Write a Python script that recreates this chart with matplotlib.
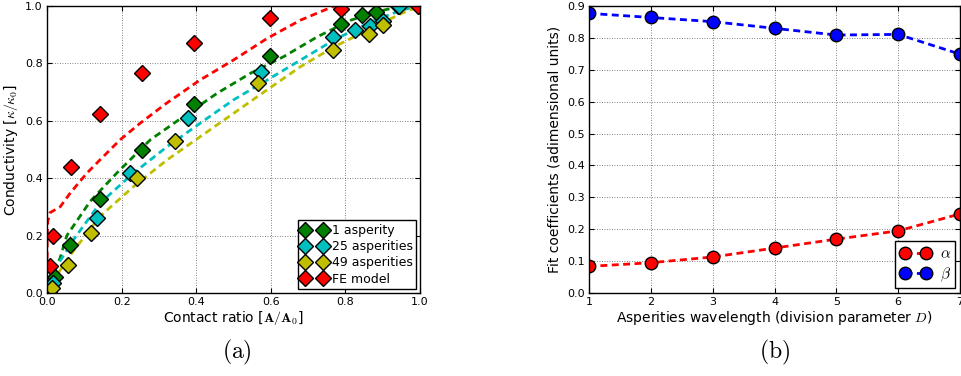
import numpy as np
import matplotlib
matplotlib.use("Agg")
import matplotlib.pyplot as plt

plt.rcParams['mathtext.fontset'] = 'cm'
plt.rcParams['font.size'] = 8

# ---- (a) conductivity vs contact ratio ----
x_1 = [0.005, 0.02, 0.062, 0.142, 0.254, 0.393, 0.598, 0.788, 0.844, 0.883, 0.94, 1.0]
y_1 = [0.02, 0.056, 0.168, 0.327, 0.497, 0.659, 0.826, 0.937, 0.969, 0.978, 1.0, 1.0]
x_25 = [0.008, 0.017, 0.135, 0.223, 0.379, 0.574, 0.768, 0.826, 0.866, 0.9, 0.943]
y_25 = [0.017, 0.035, 0.261, 0.418, 0.609, 0.771, 0.893, 0.916, 0.930, 0.949, 1.0]
x_49 = [0.005, 0.013, 0.057, 0.117, 0.241, 0.342, 0.565, 0.768, 0.864, 0.902]
y_49 = [0.005, 0.017, 0.099, 0.209, 0.400, 0.531, 0.733, 0.847, 0.903, 0.934]
x_fe = [0.008, 0.015, 0.064, 0.141, 0.254, 0.393, 0.598, 0.788, 0.994]
y_fe = [0.093, 0.2, 0.439, 0.623, 0.766, 0.872, 0.957, 0.988, 1.0]

# fitted curves
fx_1 = [0.0, 0.021, 0.035, 0.053, 0.116, 0.187, 0.277, 0.366, 0.456, 0.546, 0.635, 0.725, 0.815, 0.904, 0.95]
fy_1 = [0.0, 0.08, 0.122, 0.2, 0.32, 0.418, 0.534, 0.615, 0.696, 0.766, 0.824, 0.893, 0.951, 0.986, 1.0]
fx_25 = [0.0, 0.026, 0.071, 0.142, 0.232, 0.322, 0.411, 0.5, 0.59, 0.68, 0.77, 0.86, 0.95, 1.0]
fy_25 = [0.0, 0.093, 0.186, 0.313, 0.418, 0.51, 0.592, 0.673, 0.742, 0.812, 0.882, 0.94, 0.986, 1.0]
fx_49 = [0.0, 0.008, 0.053, 0.142, 0.232, 0.322, 0.411, 0.5, 0.59, 0.68, 0.77, 0.86, 0.95, 1.0]
fy_49 = [0.0, 0.023, 0.116, 0.267, 0.371, 0.464, 0.545, 0.626, 0.708, 0.789, 0.858, 0.916, 0.974, 1.0]
fx_fe = [0.0, 0.0005, 0.002, 0.008, 0.035, 0.062, 0.107, 0.142, 0.196, 0.25, 0.32, 0.41, 0.5, 0.59, 0.68, 0.77]
fy_fe = [0.08, 0.2, 0.25, 0.28, 0.3, 0.348, 0.418, 0.464, 0.534, 0.592, 0.661, 0.742, 0.812, 0.887, 0.951, 1.0]

# ---- (b) fit coefficients ----
D = [1, 2, 3, 4, 5, 6, 7]
alpha = [0.0835, 0.095, 0.113, 0.141, 0.169, 0.195, 0.248]
beta = [0.877, 0.864, 0.851, 0.830, 0.809, 0.811, 0.749]

fig = plt.figure(figsize=(9.62, 3.76), dpi=100)
ax1 = fig.add_axes([0.0489, 0.2207, 0.3877, 0.7633])
ax2 = fig.add_axes([0.6123, 0.2207, 0.3857, 0.7633])

green = '#008000'
cyan = '#00bfbf'
olive = '#bfbf00'
red = '#ff0000'
dash = (2.5, 1.6)

ax1.plot(fx_1, fy_1, '--', color=green, lw=2, dashes=dash)
ax1.plot(fx_25, fy_25, '--', color=cyan, lw=2, dashes=dash)
ax1.plot(fx_49, fy_49, '--', color=olive, lw=2, dashes=dash)
ax1.plot(fx_fe, fy_fe, '--', color=red, lw=2, dashes=dash)

mk = dict(marker='D', linestyle='none', markersize=8.5, markeredgecolor='k', markeredgewidth=1)
ax1.plot(x_1, y_1, color=green, label='1 asperity', **mk)
ax1.plot(x_25, y_25, color=cyan, label='25 asperities', **mk)
ax1.plot(x_49, y_49, color=olive, label='49 asperities', **mk)
ax1.plot(x_fe, y_fe, color=red, label='FE model', **mk)

ax1.set_xlim(0, 1)
ax1.set_ylim(0, 1)
ax1.set_xticks(np.arange(0, 1.01, 0.2))
ax1.set_yticks(np.arange(0, 1.01, 0.2))
ax1.set_xlabel(r'Contact ratio [$\mathbf{A}/\mathbf{A}_0$]', fontsize=10, labelpad=1)
ax1.set_ylabel(r'Conductivity [$\kappa/\kappa_0$]', fontsize=10, labelpad=4)
leg1 = ax1.legend(loc='lower right', numpoints=2, fontsize=9, fancybox=False,
                  borderaxespad=0.3, handletextpad=0.4, labelspacing=0.25,
                  borderpad=0.3, handlelength=2.0)
leg1.get_frame().set_edgecolor('k')
leg1.get_frame().set_alpha(1)

ax2.plot(D, alpha, '--o', color=red, lw=2, dashes=dash, markersize=9, markeredgecolor='k',
         markeredgewidth=1, label=r'$\alpha$')
ax2.plot(D, beta, '--o', color='#0000ff', lw=2, dashes=dash, markersize=9, markeredgecolor='k',
         markeredgewidth=1, label=r'$\beta$')
ax2.set_xlim(1, 7)
ax2.set_ylim(0, 0.9)
ax2.set_yticks(np.arange(0, 0.91, 0.1))
ax2.set_xlabel(r'Asperities wavelength (division parameter $D$)', fontsize=10, labelpad=1)
ax2.set_ylabel('Fit coefficients (adimensional units)', fontsize=10, labelpad=4)
leg2 = ax2.legend(loc='lower right', numpoints=2, fontsize=11, fancybox=False,
                  borderaxespad=0.3, handletextpad=0.6, labelspacing=0.3,
                  borderpad=0.3, handlelength=2.0)
leg2.get_frame().set_edgecolor('k')
leg2.get_frame().set_alpha(1)

for ax in (ax1, ax2):
    ax.grid(True, color='0.35', linestyle=(0, (1, 2)), linewidth=0.6)
    ax.tick_params(direction='in', top=True, right=True, labelsize=8, pad=3)
    for s in ax.spines.values():
        s.set_linewidth(1)

fig.text(0.2464, 0.063, r'$\mathrm{(a)}$', ha='center', va='center', fontsize=17)
fig.text(0.8056, 0.063, r'$\mathrm{(b)}$', ha='center', va='center', fontsize=17)

fig.savefig('out.png', dpi=100)
